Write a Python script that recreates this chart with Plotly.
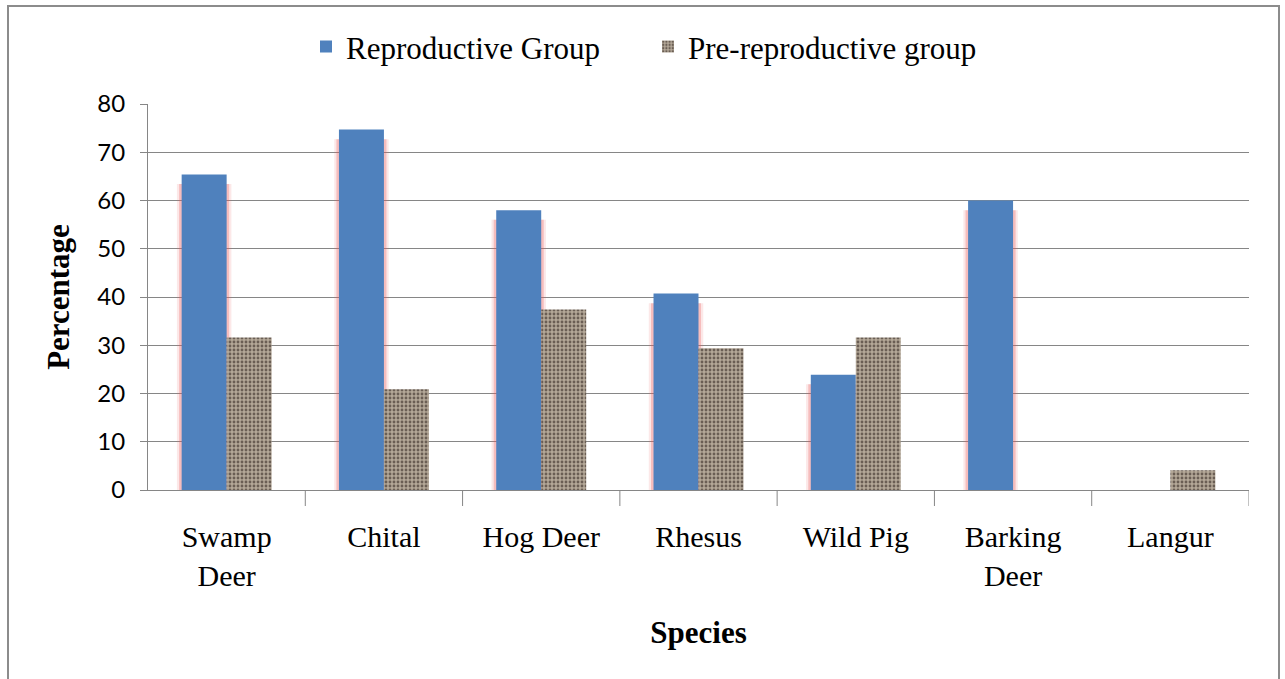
import plotly.graph_objects as go

species = ["Swamp<br>Deer", "Chital", "Hog Deer", "Rhesus", "Wild Pig", "Barking<br>Deer", "Langur"]
reproductive = [65.4, 74.7, 58.0, 40.7, 23.9, 60.0, None]
pre_reproductive = [31.6, 20.9, 37.4, 29.4, 31.6, None, 4.1]
y_ticks = [0, 10, 20, 30, 40, 50, 60, 70, 80]

xpos = list(range(len(species)))
bar_w = 0.286

serif = "Liberation Serif"
sans = "Lato"

fig = go.Figure()

# soft reddish halo behind the blue bars
for pad, alpha in [(0.03, 0.14), (0.016, 0.3)]:
    fig.add_trace(go.Bar(
        x=xpos, y=[None if v is None else v - 2 for v in reproductive],
        width=bar_w + 2 * pad, offset=-bar_w - pad,
        marker=dict(color=f"rgba(232,90,90,{alpha})", line=dict(width=0)),
        showlegend=False, hoverinfo="skip"))

fig.add_trace(go.Bar(
    x=xpos, y=reproductive, name="Reproductive Group",
    width=bar_w, offset=-bar_w,
    marker=dict(color="#4F81BD", line=dict(width=0))))

fig.add_trace(go.Bar(
    x=xpos, y=pre_reproductive, name="Pre-reproductive group",
    width=bar_w, offset=0,
    marker=dict(color="#A09282", line=dict(width=0),
                pattern=dict(shape=".", fgcolor="#6a5e54", bgcolor="#b4a898",
                             size=4, solidity=0.4, fillmode="replace"))))

fig.update_layout(
    width=1285, height=679,
    margin=dict(l=148, r=36, t=104, b=189),
    paper_bgcolor="white", plot_bgcolor="white",
    barmode="overlay",
    legend=dict(orientation="h", x=(306 - 148) / 1101, xanchor="left", y=1.148, yanchor="middle",
                font=dict(family=serif, size=31, color="#000"),
                itemwidth=30, entrywidth=297, traceorder="normal"),
    xaxis=dict(
        tickmode="array", tickvals=xpos, ticktext=species,
        range=[-0.5, len(species) - 0.5],
        showline=True, linecolor="#868686", linewidth=1,
        ticks="", showgrid=False, ticklabelstandoff=20,
        tickfont=dict(family=serif, size=30, color="#000"),
        title=dict(text="<b>Species</b>", font=dict(family=serif, size=31, color="#000"), standoff=30),
    ),
    yaxis=dict(
        range=[0, 80], tickvals=y_ticks,
        showline=True, linecolor="#868686", linewidth=1,
        ticks="outside", ticklen=7, tickcolor="#868686",
        ticklabelstandoff=10,
        showgrid=True, gridcolor="#868686", gridwidth=1,
        tickfont=dict(family=sans, size=24, color="#000"),
        title=dict(text="<b>Percentage</b>", font=dict(family=serif, size=31, color="#000"), standoff=18),
        zeroline=False,
    ),
    shapes=[
        # outer chart frame
        dict(type="rect", xref="paper", yref="paper",
             x0=(8 - 148) / 1101, x1=(1279 - 148) / 1101,
             y0=-0.52, y1=(490 - 6) / 386,
             line=dict(color="#8c8c8c", width=2), fillcolor="rgba(0,0,0,0)", layer="below"),
    ] + [
        # category separator ticks
        dict(type="line", xref="x", yref="paper", x0=i - 0.5, x1=i - 0.5,
             y0=0, y1=-16 / 386, line=dict(color="#868686", width=1))
        for i in range(1, len(species) + 1)
    ],
)

fig.write_html("out.html")
